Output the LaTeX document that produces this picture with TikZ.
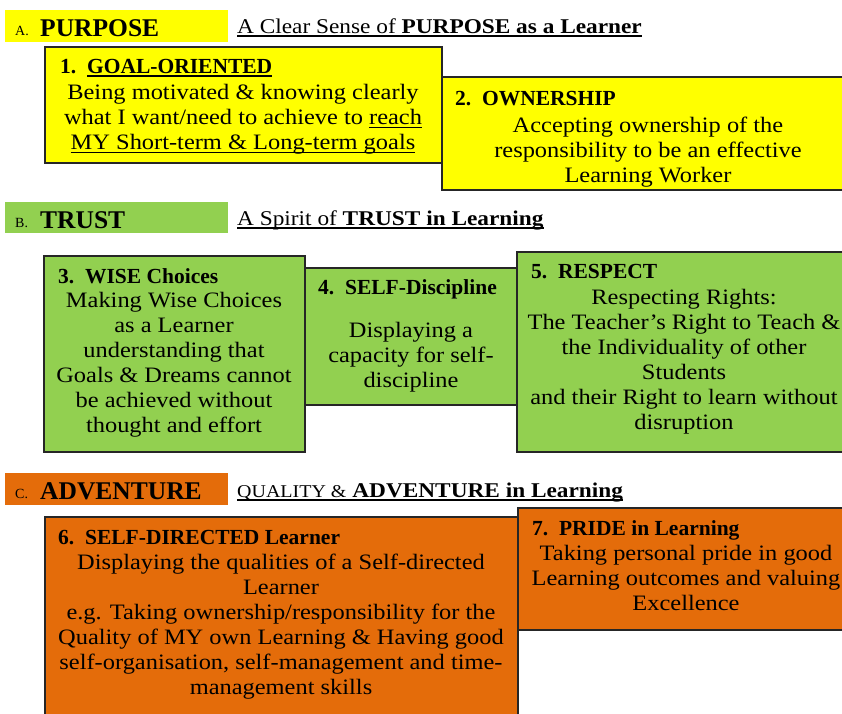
\documentclass[tikz,border=0pt]{standalone}
\usepackage{fontspec}
\setmainfont{Liberation Serif}[FakeStretch=1.11]
\newfontfamily\plainfam{Liberation Serif}
\newsavebox\myulbox
\newcommand\myul[1]{\sbox\myulbox{#1}\rlap{\rule[-3.5pt]{\wd\myulbox}{1.1pt}}\usebox\myulbox}
\definecolor{cyel}{HTML}{FFFF00}
\definecolor{cgrn}{HTML}{92D050}
\definecolor{corg}{HTML}{E46C0A}
\definecolor{cline}{HTML}{262626}
\tikzset{
 card/.style={draw=cline, line width=1.4pt, anchor=north west, inner sep=0pt, outer sep=0pt},
 band/.style={anchor=north west, inner sep=0pt, outer sep=0pt},
 body/.style={anchor=north, align=center, inner sep=0pt, font=\fontsize{22}{25}\selectfont},
 ttl/.style={anchor=base west, inner sep=0pt, font=\plainfam\fontsize{21.5}{25}\selectfont\bfseries},
 letter/.style={anchor=base west, inner sep=0pt, font=\plainfam\fontsize{14}{14}\selectfont},
 big/.style={anchor=base west, inner sep=0pt, font=\plainfam\fontsize{25.5}{27}\selectfont\bfseries},
 sub/.style={anchor=base west, inner sep=0pt, font=\fontsize{21}{21}\selectfont},
}
\begin{document}
\begin{tikzpicture}[x=1pt,y=-1pt]
\useasboundingbox (0,0) rectangle (842,713);
\clip (0,0) rectangle (842,713);
\fill[white] (0,0) rectangle (842,713);
% ---- A
\node[band, fill=cyel, minimum width=223pt, minimum height=32pt] (bandA) at (5,10) {};
\node[letter] (la) at (15,35) {A.};
\node[big] (ha) at (40,36) {PURPOSE};
\node[sub] (sa) at (237,33) {\myul{A Clear Sense of \textbf{PURPOSE as a Learner}}};
\node[card, fill=cyel, minimum width=397pt, minimum height=116pt] (b1) at (45,47) {};
\node[card, fill=cyel, minimum width=405pt, minimum height=113pt] (b2) at (442,77) {};
\node[ttl] (t1) at (60,73) {1.~~\myul{GOAL-ORIENTED}};
\node[body] (x1) at (243,81.5) {\strut Being motivated \& knowing clearly\\what I want/need to achieve to \myul{reach}\\\myul{MY Short-term \& Long-term goals}};
\node[ttl] (t2) at (455,105) {2.~~OWNERSHIP};
\node[body] (x2) at (648,114.5) {\strut Accepting ownership of the\\responsibility to be an effective\\Learning Worker};
% ---- B
\node[band, fill=cgrn, minimum width=223pt, minimum height=31pt] (bandB) at (5,202) {};
\node[letter] (lb) at (15,227) {B.};
\node[big] (hb) at (40,228) {TRUST};
\node[sub] (sb) at (237,225) {\myul{A Spirit of \textbf{TRUST in Learning}}};
\node[card, fill=cgrn, minimum width=261pt, minimum height=196pt] (b3) at (44,256) {};
\node[card, fill=cgrn, minimum width=212pt, minimum height=137pt] (b4) at (305,268) {};
\node[card, fill=cgrn, minimum width=330pt, minimum height=200pt] (b5) at (517,252) {};
\node[ttl] (t3) at (58,283) {3.~~WISE Choices};
\node[body] (x3) at (174,289.5) {\strut Making Wise Choices\\as a Learner\\understanding that\\Goals \& Dreams cannot\\be achieved without\\thought and effort};
\node[ttl] (t4) at (318,294) {4.~~SELF-Discipline};
\node[body] (x4) at (411,319.5) {\strut Displaying a\\capacity for self-\\discipline};
\node[ttl] (t5) at (531,278) {5.~~RESPECT};
\node[body] (x5) at (684,286.5) {\strut Respecting Rights:\\The Teacher’s Right to Teach \&\\the Individuality of other\\Students\\and their Right to learn without\\disruption};
% ---- C
\node[band, fill=corg, minimum width=223pt, minimum height=32pt] (bandC) at (5,473) {};
\node[letter] (lc) at (15,498) {C.};
\node[big] (hc) at (40,499) {ADVENTURE};
\node[sub] (sc) at (237,497) {\myul{{\fontsize{18}{18}\selectfont QUALITY \&} \textbf{ADVENTURE in Learning}}};
\node[card, fill=corg, minimum width=473pt, minimum height=215pt] (b6) at (45,517) {};
\node[card, fill=corg, minimum width=330pt, minimum height=122pt] (b7) at (518,508) {};
\node[ttl] (t6) at (58,544) {6.~~SELF-DIRECTED Learner};
\node[body] (x6) at (281,551.5) {\strut Displaying the qualities of a Self-directed\\Learner\\e.g. Taking ownership/responsibility for the\\Quality of MY own Learning \& Having good\\self-organisation, self-management and time-\\management skills};
\node[ttl] (t7) at (532,535) {7.~~PRIDE in Learning};
\node[body] (x7) at (686,542.5) {\strut Taking personal pride in good\\Learning outcomes and valuing\\Excellence};
\end{tikzpicture}
\end{document}
